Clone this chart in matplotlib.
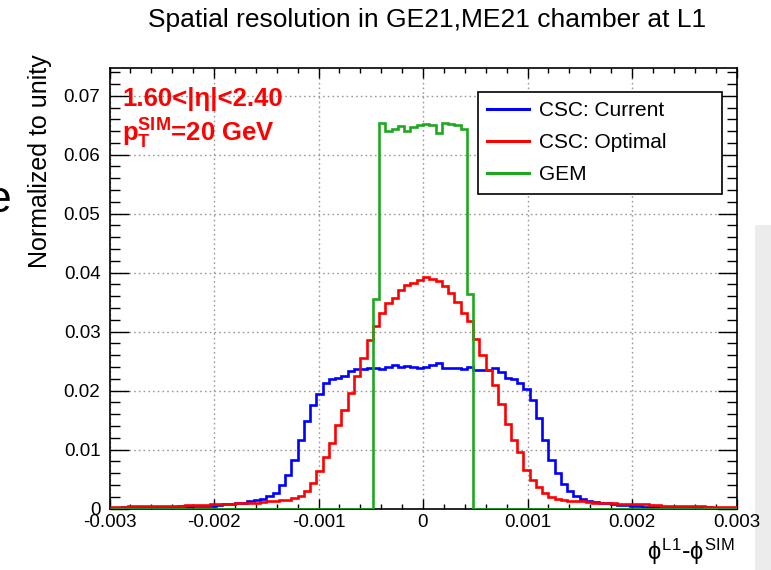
import numpy as np
import matplotlib
matplotlib.use("Agg")
import matplotlib.pyplot as plt
from matplotlib.lines import Line2D
from matplotlib.patches import Rectangle
from matplotlib.ticker import MultipleLocator, FuncFormatter

plt.rcParams['font.family'] = ['Liberation Sans', 'DejaVu Sans']
plt.rcParams['axes.unicode_minus'] = False
plt.rcParams['mathtext.fontset'] = 'custom'
plt.rcParams['mathtext.rm'] = 'Liberation Sans'
plt.rcParams['mathtext.it'] = 'Liberation Sans'
plt.rcParams['mathtext.bf'] = 'Liberation Sans:bold'
plt.rcParams['mathtext.sf'] = 'Liberation Sans'

# ---------------- data ----------------
x_min, x_max, n_bins = -0.003, 0.003, 100

csc_current = [
    0.0001, 0.0001, 0.0002, 0.0002, 0.0002, 0.0002, 0.0003, 0.0002, 0.0003, 0.0003,
    0.0003, 0.0004, 0.0003, 0.0004, 0.0004, 0.0005, 0.0005, 0.0006, 0.0007, 0.0008,
    0.0009, 0.0010, 0.0012, 0.0014, 0.0016, 0.0021, 0.0027, 0.0040, 0.0057, 0.0082,
    0.0117, 0.0149, 0.0175, 0.0195, 0.0213, 0.0220, 0.0221, 0.0225, 0.0234, 0.0236,
    0.0236, 0.0239, 0.0239, 0.0237, 0.0240, 0.0243, 0.0240, 0.0242, 0.0240, 0.0239,
    0.0240, 0.0243, 0.0246, 0.0239, 0.0238, 0.0238, 0.0236, 0.0240, 0.0235, 0.0235,
    0.0235, 0.0239, 0.0231, 0.0222, 0.0219, 0.0213, 0.0203, 0.0184, 0.0154, 0.0117,
    0.0082, 0.0060, 0.0042, 0.0029, 0.0021, 0.0016, 0.0013, 0.0011, 0.0009, 0.0009,
    0.0007, 0.0006, 0.0006, 0.0004, 0.0004, 0.0003, 0.0003, 0.0003, 0.0002, 0.0002,
    0.0002, 0.0002, 0.0002, 0.0002, 0.0002, 0.0002, 0.0001, 0.0001, 0.0001, 0.0001,
]

csc_optimal = [
    0.0003, 0.0003, 0.0003, 0.0004, 0.0004, 0.0004, 0.0004, 0.0005, 0.0005, 0.0005,
    0.0005, 0.0005, 0.0006, 0.0006, 0.0006, 0.0006, 0.0007, 0.0007, 0.0008, 0.0008,
    0.0009, 0.0009, 0.0010, 0.0010, 0.0011, 0.0012, 0.0013, 0.0014, 0.0015, 0.0017,
    0.0022, 0.0029, 0.0043, 0.0064, 0.0088, 0.0111, 0.0142, 0.0167, 0.0196, 0.0225,
    0.0256, 0.0286, 0.0309, 0.0331, 0.0349, 0.0357, 0.0370, 0.0379, 0.0383, 0.0387,
    0.0393, 0.0389, 0.0385, 0.0377, 0.0366, 0.0350, 0.0331, 0.0318, 0.0288, 0.0260,
    0.0235, 0.0209, 0.0178, 0.0144, 0.0116, 0.0095, 0.0065, 0.0048, 0.0036, 0.0026,
    0.0019, 0.0016, 0.0014, 0.0013, 0.0012, 0.0012, 0.0011, 0.0010, 0.0009, 0.0009,
    0.0009, 0.0008, 0.0008, 0.0007, 0.0007, 0.0007, 0.0006, 0.0006, 0.0005, 0.0005,
    0.0005, 0.0005, 0.0005, 0.0004, 0.0004, 0.0003, 0.0003, 0.0003, 0.0003, 0.0003,
]

gem = [0.0] * 42 + [
    0.0356, 0.0653, 0.0640, 0.0643, 0.0648, 0.0640, 0.0647, 0.0651,
    0.0652, 0.0651, 0.0636, 0.0653, 0.0652, 0.0650, 0.0644, 0.0364,
] + [0.0] * 42

series_labels = ["CSC: Current", "CSC: Optimal", "GEM"]
series_colors = ["#0000ff", "#ff0000", "#1fa81f"]

x_ticks = [-0.003, -0.002, -0.001, 0.0, 0.001, 0.002, 0.003]
y_ticks = [0.0, 0.01, 0.02, 0.03, 0.04, 0.05, 0.06, 0.07]

# ---------------- figure ----------------
W, H = 771, 570
fig = plt.figure(figsize=(W / 100, H / 100), dpi=100)

# light slide-background strip on the right edge (behind everything)
fig.patches.append(Rectangle((755 / W, 0), (W - 755) / W, 1 - 225 / H,
                             transform=fig.transFigure, facecolor='#ececec',
                             edgecolor='none', zorder=-5))

L, R, T, B = 109.5, 736.5, 68, 508.5
ax = fig.add_axes([L / W, 1 - B / H, (R - L) / W, (B - T) / H])

edges = np.linspace(x_min, x_max, n_bins + 1)
lw = 1.9
ax.stairs(csc_current, edges, color=series_colors[0], linewidth=lw, baseline=None, zorder=3)
ax.stairs(csc_optimal, edges, color=series_colors[1], linewidth=lw, baseline=None, zorder=3)
ax.stairs(gem, edges, color=series_colors[2], linewidth=lw, baseline=None, zorder=3)

ax.set_xlim(x_min, x_max)
ax.set_ylim(0, 0.0747)

ax.set_xticks(x_ticks)
ax.set_yticks(y_ticks)
ax.xaxis.set_minor_locator(MultipleLocator(0.0002))
ax.yaxis.set_minor_locator(MultipleLocator(0.002))
ax.xaxis.set_major_formatter(FuncFormatter(lambda v, p: '0' if abs(v) < 1e-12 else f'{v:.3f}'))
ax.yaxis.set_major_formatter(FuncFormatter(lambda v, p: '0' if abs(v) < 1e-12 else f'{v:.2f}'))
ax.tick_params(axis='both', which='both', direction='in', top=True, right=True,
               labelsize=13.5, width=1.0, colors='black')
ax.tick_params(axis='x', which='major', length=7.5, pad=4)
ax.tick_params(axis='x', which='minor', length=3.8)
ax.tick_params(axis='y', which='major', length=13.5, pad=6.5)
ax.tick_params(axis='y', which='minor', length=7)
for s in ax.spines.values():
    s.set_linewidth(1.2)

ax.grid(True, which='major', color='#9a9a9a', linestyle=(0, (1.2, 2.2)), linewidth=1.0, zorder=0)
ax.set_axisbelow(True)

# title and axis titles
fig.text(427 / W, 1 - 20 / H, "Spatial resolution in GE21,ME21 chamber at L1",
         ha='center', va='center', fontsize=19)
fig.text(40 / W, 1 - 161 / H, "Normalized to unity", rotation=90,
         ha='center', va='center', fontsize=18)
fig.text(735 / W, 1 - 552 / H, r'$\phi^{\mathrm{L1}}$-$\phi^{\mathrm{SIM}}$',
         ha='right', va='center', fontsize=17, family=['DejaVu Sans'])

# annotations (red, bold)
fig.text(122 / W, 1 - 99 / H, "1.60<|\u03b7|<2.40", fontsize=18.5, fontweight='bold',
         color='#ff0000', va='center', ha='left')
fig.text(122 / W, 1 - 134 / H, r'$\mathbf{p}_{\mathbf{T}}^{\mathbf{SIM}}$' + "=20 GeV",
         fontsize=18.5, fontweight='bold', color='#ff0000', va='center', ha='left')

# legend
handles = [Line2D([], [], color=c, lw=2.2) for c in series_colors]
leg = ax.legend(handles, series_labels, loc='upper left',
                bbox_to_anchor=((478 - L) / (R - L), (B - 193) / (B - T),
                                (722 - 478) / (R - L), (193 - 92) / (B - T)),
                mode='expand', fontsize=15, frameon=True, fancybox=False,
                edgecolor='black', framealpha=1, handlelength=2.0, handletextpad=0.5,
                labelspacing=0.62, borderpad=0.45, borderaxespad=0)
leg.get_frame().set_linewidth(1.2)

# stray slide glyph at left edge
fig.text(-14 / W, 1 - 200 / H, "e", fontsize=32, ha='left', va='center')

fig.savefig("out.png", dpi=100)
